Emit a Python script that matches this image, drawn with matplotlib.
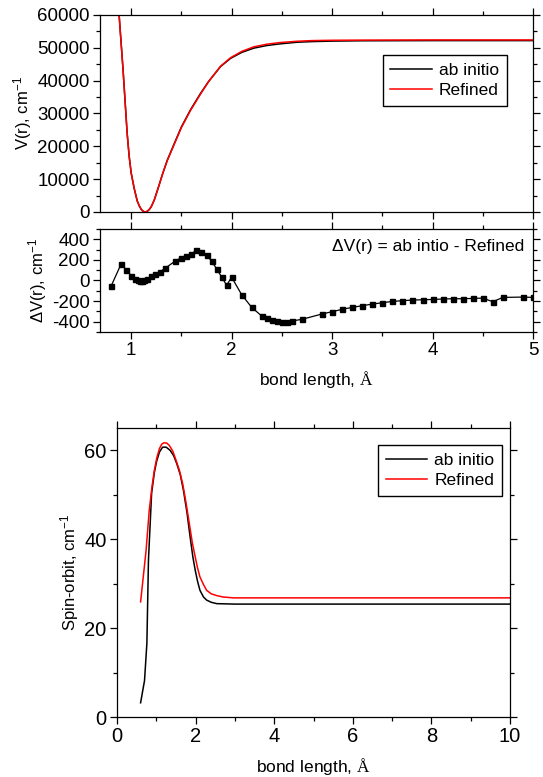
import matplotlib
matplotlib.use("Agg")
import matplotlib.pyplot as plt
from matplotlib.ticker import MultipleLocator

plt.rcParams["font.family"] = ["Liberation Sans", "DejaVu Sans"]
plt.rcParams["mathtext.fontset"] = "custom"
plt.rcParams["mathtext.rm"] = "Liberation Sans"
plt.rcParams["mathtext.cal"] = "Liberation Serif"
plt.rcParams["mathtext.default"] = "regular"
plt.rcParams["axes.unicode_minus"] = False

# --- potential energy curve ---
r_pot = [0.88, 0.90, 0.92, 0.94, 0.96, 0.98, 1.00, 1.03, 1.06, 1.08, 1.10, 1.12, 1.14,
         1.16, 1.18, 1.20, 1.23, 1.27, 1.315, 1.36, 1.43, 1.50, 1.59, 1.69, 1.77, 1.89,
         1.99, 2.10, 2.22, 2.35, 2.48, 2.65, 2.80, 3.00, 3.30, 4.00, 5.00]
v_abinitio = [60000, 51500, 43000, 33500, 24000, 17000, 11900, 7200, 3400, 1900, 800, 200, 0,
              200, 750, 1600, 3650, 7400, 11800, 15800, 20900, 25900, 31100, 36100, 39700, 44300,
              46800, 48600, 49900, 50700, 51200, 51700, 51900, 52050, 52150, 52200, 52200]
v_refined = [60000, 51500, 43000, 33500, 24000, 17000, 11900, 7200, 3400, 1900, 800, 200, 0,
             200, 750, 1600, 3650, 7400, 11800, 15700, 20700, 25700, 30900, 35900, 39700, 44400,
             47000, 48900, 50300, 51100, 51600, 52000, 52200, 52300, 52350, 52400, 52400]

# --- difference ab initio - refined ---
r_diff = [0.80, 0.90, 0.95, 1.00, 1.04, 1.07, 1.09, 1.11, 1.13, 1.16, 1.20, 1.24,
          1.29, 1.34, 1.44, 1.50, 1.55, 1.60, 1.65, 1.70, 1.75, 1.80, 1.85, 1.90,
          1.95, 2.00, 2.10, 2.20, 2.30, 2.35, 2.40, 2.45, 2.50, 2.55, 2.60, 2.70,
          2.90, 3.00, 3.10, 3.20, 3.30, 3.40, 3.50, 3.60, 3.70, 3.80, 3.90, 4.00,
          4.10, 4.20, 4.30, 4.40, 4.50, 4.60, 4.70, 4.90, 5.00]
dv = [-55, 160, 106, 48, 19, 6, -2, -2, 5, 19, 40, 64,
      87, 120, 190, 222, 241, 260, 293, 280, 245, 190, 113, 35,
      -46, 32, -138, -261, -345, -367, -383, -396, -403, -403, -393, -377,
      -325, -303, -280, -261, -245, -229, -216, -203, -196, -190, -187, -184,
      -180, -177, -177, -174, -171, -206, -164, -161, -164]

# --- spin-orbit coupling ---
r_so_ab = [0.60, 0.70, 0.76, 0.80, 0.88, 0.95, 1.01, 1.08, 1.16, 1.25, 1.35, 1.44, 1.52,
           1.61, 1.69, 1.78, 1.86, 1.93, 1.99, 2.05, 2.11, 2.20, 2.28, 2.40, 2.54,
           3.00, 4.00, 6.00, 8.00, 10.00]
so_ab = [3.2, 8.2, 16.6, 35.3, 50.3, 55.0, 57.6, 59.6, 60.7, 60.7, 60.0, 58.8, 57.0,
         54.5, 51.0, 46.0, 40.5, 36.0, 33.0, 30.5, 28.5, 27.0, 26.3, 25.8, 25.5,
         25.4, 25.4, 25.4, 25.4, 25.4]
r_so_ref = [0.60, 0.74, 0.82, 0.89, 0.95, 1.01, 1.08, 1.14, 1.20, 1.27, 1.33, 1.42, 1.50,
            1.59, 1.67, 1.75, 1.84, 1.92, 1.99, 2.05, 2.11, 2.20, 2.28, 2.40, 2.54,
            2.70, 2.96, 4.00, 6.00, 8.00, 10.00]
so_ref = [25.9, 37.5, 46.5, 51.8, 55.5, 58.2, 60.4, 61.4, 61.7, 61.6, 61.1, 59.8, 57.8,
          55.4, 52.5, 48.5, 43.5, 39.0, 36.0, 33.5, 31.5, 29.8, 28.5, 27.7, 27.3,
          27.0, 26.8, 26.8, 26.8, 26.8, 26.8]

fig = plt.figure(figsize=(5.43, 7.77), dpi=100)
ax1 = fig.add_axes([0.1842, 0.7272, 0.7974, 0.2535])
ax2 = fig.add_axes([0.1842, 0.5727, 0.7974, 0.1326])
ax3 = fig.add_axes([0.2155, 0.0772, 0.7238, 0.3719])


def style(ax, size):
    ax.tick_params(which="both", direction="out", top=True, right=True,
                   labelsize=size, width=0.9, pad=2.5)
    ax.tick_params(which="major", length=5)
    ax.tick_params(which="minor", length=3)
    for s in ax.spines.values():
        s.set_linewidth(0.9)


leg_kw = dict(fontsize=12.5, frameon=True, fancybox=False, edgecolor="black",
              framealpha=1, handlelength=2.4, borderpad=0.45, labelspacing=0.3,
              handletextpad=0.4, borderaxespad=0)

# Top: potential
ax1.plot(r_pot, v_abinitio, color="black", lw=1.1, label="ab initio")
ax1.plot(r_pot, v_refined, color="red", lw=1.1, label="Refined")
ax1.set_xlim(0.69, 5.0)
ax1.set_ylim(0, 60000)
ax1.xaxis.set_major_locator(MultipleLocator(1))
ax1.xaxis.set_minor_locator(MultipleLocator(0.5))
ax1.yaxis.set_major_locator(MultipleLocator(10000))
ax1.yaxis.set_minor_locator(MultipleLocator(5000))
ax1.set_ylabel("V(r), cm$^{-1}$", fontsize=12, labelpad=2)
style(ax1, 13.5)
ax1.tick_params(labelbottom=False)
ax1.legend(loc="upper right", bbox_to_anchor=(0.94, 0.797), **leg_kw)

# Middle: difference
ax2.plot(r_diff, dv, color="black", lw=0.9, marker="s", markersize=3.6)
ax2.set_xlim(0.69, 5.0)
ax2.set_ylim(-500, 500)
ax2.xaxis.set_major_locator(MultipleLocator(1))
ax2.xaxis.set_minor_locator(MultipleLocator(0.5))
ax2.yaxis.set_major_locator(MultipleLocator(200))
ax2.yaxis.set_minor_locator(MultipleLocator(100))
ax2.set_ylabel("ΔV(r), cm$^{-1}$", fontsize=12, labelpad=2)
ax2.set_xlabel(r"bond length, $\mathcal{\AA}$", fontsize=12.5, labelpad=7)
ax2.text(0.98, 0.83, "ΔV(r) = ab intio - Refined", transform=ax2.transAxes,
         ha="right", va="center", fontsize=12.5)
style(ax2, 13.5)

# Bottom: spin-orbit
ax3.plot(r_so_ab, so_ab, color="black", lw=1.1, label="ab initio")
ax3.plot(r_so_ref, so_ref, color="red", lw=1.1, label="Refined")
ax3.set_xlim(0, 10)
ax3.set_ylim(0, 65)
ax3.xaxis.set_major_locator(MultipleLocator(2))
ax3.xaxis.set_minor_locator(MultipleLocator(1))
ax3.yaxis.set_major_locator(MultipleLocator(20))
ax3.yaxis.set_minor_locator(MultipleLocator(10))
ax3.set_ylabel("Spin-orbit, cm$^{-1}$", fontsize=12, labelpad=2)
ax3.set_xlabel(r"bond length, $\mathcal{\AA}$", fontsize=12.5, labelpad=7)
style(ax3, 14.5)
ax3.legend(loc="upper right", bbox_to_anchor=(0.98, 0.941), **leg_kw)

fig.savefig("out.png", dpi=100)
plt.close(fig)
